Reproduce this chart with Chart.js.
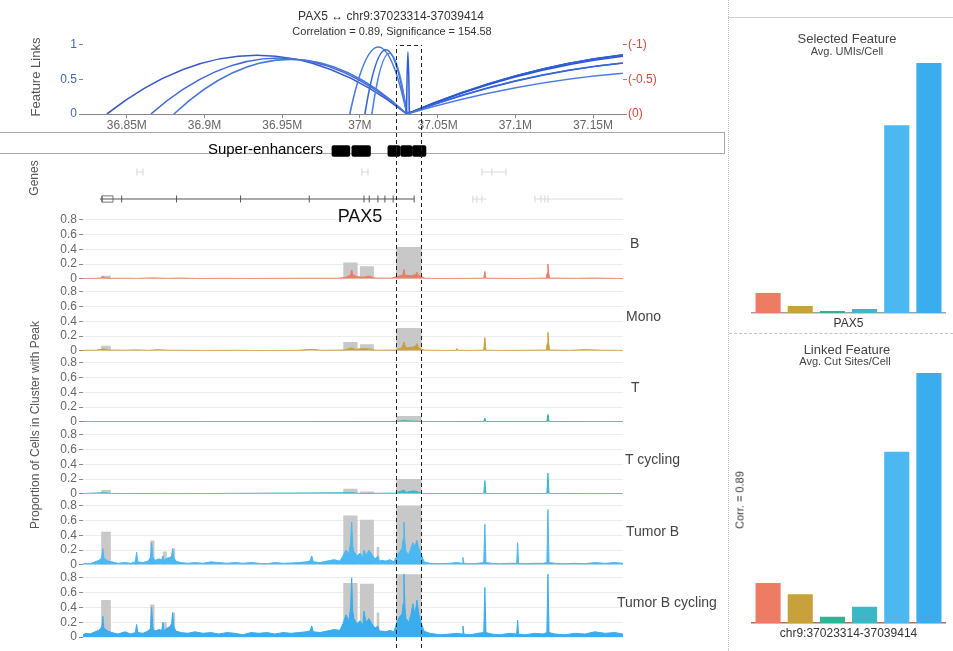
<!DOCTYPE html>
<html>
<head>
<meta charset="utf-8">
<title>PAX5 feature links</title>
<script src="https://cdn.jsdelivr.net/npm/chart.js@4.4.1/dist/chart.umd.min.js"></script>
<style>
  body { margin: 0; background: #fff; }
  #page { position: relative; width: 953px; height: 651px; overflow: hidden; font-family: "Liberation Sans", Arial, Helvetica, sans-serif; }
  canvas { position: absolute; }
  .t { position: absolute; white-space: nowrap; line-height: 1; z-index: 2; }
  .c { transform: translate(-50%, -50%); }
  .l { transform: translate(0, -50%); }
  .r { transform: translate(-100%, -50%); }
  .rot { transform: translate(-50%, -50%) rotate(-90deg); }
</style>
</head>
<body>
<div id="page">
  <div style="position:absolute;left:0;top:132px;width:724px;height:20px;border-top:1px solid #a8a8a8;border-bottom:1px solid #a8a8a8;border-right:1px solid #a8a8a8;"></div>
  <div style="position:absolute;left:728px;top:0;width:0;height:651px;border-left:1px dotted #bbb;"></div>
  <div style="position:absolute;left:728px;top:17px;width:225px;height:0;border-top:1px solid #d0d0d0;"></div>
  <div style="position:absolute;left:729px;top:333px;width:224px;height:0;border-top:1px dashed #c4c4c4;"></div>

  <div class="t c" style="left:391px;top:16px;font-size:12px;color:#333;">PAX5 ↔ chr9:37023314-37039414</div>
  <div class="t c" style="left:392px;top:31px;font-size:11px;color:#333;">Correlation = 0.89, Significance = 154.58</div>
  <div class="t rot" style="left:35px;top:77px;font-size:13px;color:#555;">Feature Links</div>
  <div class="t r" style="left:323px;top:148px;font-size:15px;color:#000;">Super-enhancers</div>
  <div class="t rot" style="left:34px;top:178px;font-size:12px;color:#555;">Genes</div>
  <div class="t c" style="left:360px;top:216px;font-size:18px;color:#111;">PAX5</div>
  <div class="t rot" style="left:35px;top:425px;font-size:12px;color:#555;">Proportion of Cells in Cluster with Peak</div>

  <div class="t l" style="left:630px;top:243px;font-size:14px;color:#444;">B</div>
  <div class="t l" style="left:626px;top:316px;font-size:14px;color:#444;">Mono</div>
  <div class="t l" style="left:631px;top:387px;font-size:14px;color:#444;">T</div>
  <div class="t l" style="left:625px;top:459px;font-size:14px;color:#444;">T cycling</div>
  <div class="t l" style="left:626px;top:531px;font-size:14px;color:#444;">Tumor B</div>
  <div class="t l" style="left:617px;top:602px;font-size:14px;color:#444;">Tumor B cycling</div>

  <div class="t c" style="left:847px;top:38px;font-size:13px;color:#444;">Selected Feature</div>
  <div class="t c" style="left:847px;top:51px;font-size:11px;color:#444;">Avg. UMIs/Cell</div>
  <div class="t c" style="left:847px;top:349px;font-size:13px;color:#444;">Linked Feature</div>
  <div class="t c" style="left:845px;top:361px;font-size:11px;color:#444;">Avg. Cut Sites/Cell</div>
  <div class="t rot" style="left:740px;top:500px;font-size:11px;color:#333;">Corr. = 0.89</div>
</div>
<script>
Chart.defaults.font.family = '"Liberation Sans", Arial, Helvetica, sans-serif';
Chart.defaults.animation = false;
Chart.defaults.layout.autoPadding = false;
Chart.defaults.plugins.legend.display = false;
Chart.defaults.plugins.tooltip.enabled = false;

// genomic window of the left panels (Mb) and the highlighted peak
const xMin = 36.8218, xMax = 37.1693;
const regionStart = 37.0232, regionEnd = 37.0394;

// feature links (arcs)
const linkStart  = [36.8372, 36.8655, 36.8803, 36.9935, 37.0032, 37.0077, 37.0300, 37.0302, 37.0302, 37.0302, 37.0302, 37.0302, 37.0302];
const linkEnd    = [37.0302, 37.0302, 37.0302, 37.0302, 37.0302, 37.0302, 37.0318, 37.4151, 37.4100, 37.4200, 37.4151, 37.4050, 37.4151];
const linkHeight = [0.85, 0.81, 0.79, 0.97, 0.93, 0.88, 0.90, 0.93, 0.92, 0.91, 0.80, 0.79, 0.64];
const linkColors = ['#3a58c4', '#3f68d6', '#4a76dc', '#4a78e0', '#3566d8', '#4f82e4', '#2f5fd6',
                    '#2a52cc', '#3160d8', '#2a55d2', '#2d5ad4', '#3866da', '#4a7ce0'];
const linkTicks = [36.85, 36.9, 36.95, 37, 37.05, 37.1, 37.15];
const linkYTicks = [0, 0.5, 1];
const linkYLabels = ['(0)', '(-0.5)', '(-1)'];

// super-enhancers
const seStart = [36.9820, 36.9948, 37.0180, 37.0262, 37.0338];
const seEnd   = [36.9935, 37.0068, 37.0258, 37.0335, 37.0425];

// genes
const pax5Start = 36.8327, pax5End = 37.0349;
const pax5Utr = [36.8340, 36.8411];
const pax5Exons = [36.8467, 36.8820, 36.9232, 36.9674, 37.0026, 37.0060, 37.0116, 37.0161, 37.0214, 37.0349];
const otherGeneStart = [36.8565, 37.0013, 37.0785, 37.0727, 37.1126];
const otherGeneEnd   = [36.8604, 37.0052, 37.0940, 37.0811, 37.1750];
const otherGeneRow   = [2, 2, 2, 1, 1];
const otherExonPos = [36.8565, 36.8604, 37.0013, 37.0052, 37.0785, 37.0849, 37.0940, 37.0727, 37.0753, 37.0785, 37.1126, 37.1165, 37.1190, 37.1210];
const otherExonRow = [2, 2, 2, 2, 2, 2, 2, 1, 1, 1, 1, 1, 1, 1];

// clusters
const clusters = ['B', 'Mono', 'T', 'T cycling', 'Tumor B', 'Tumor B cycling'];
const clusterColors = ['#EE7C64', '#C9A13A', '#2DB497', '#3BB8C6', '#4BB8F2', '#3AADEF'];

// peaks (grey) and the proportion of cells with each peak
const peakStart = [36.8335, 36.8650, 36.8731, 36.8790, 36.9893, 37.0000, 37.0108, 37.0232];
const peakEnd   = [36.8397, 36.8678, 36.8757, 36.8811, 36.9985, 37.0090, 37.0125, 37.0397];
const peakB        = [0.04, 0, 0, 0, 0.22, 0.17, 0, 0.43];
const peakMono     = [0.07, 0, 0, 0, 0.12, 0.09, 0, 0.31];
const peakT        = [0, 0, 0, 0, 0, 0, 0, 0.08];
const peakTcyc     = [0.05, 0, 0, 0, 0.07, 0.03, 0, 0.20];
const peakTumorB   = [0.45, 0.33, 0.18, 0.22, 0.67, 0.61, 0.24, 0.80];
const peakTumorBcyc = [0.50, 0.44, 0.20, 0.33, 0.73, 0.72, 0.33, 0.85];
const trackTicks = [0, 0.2, 0.4, 0.6, 0.8];

// coverage [position Mb, value]
const covB = [[36.8218,0.004],[36.8300,0.006],[36.8333,0.012],[36.8346,0.03],[36.8359,0.012],[36.8400,0.006],
  [36.8480,0.008],[36.8560,0.005],[36.8660,0.012],[36.8760,0.006],[36.8850,0.01],[36.8950,0.004],
  [36.9100,0.006],[36.9300,0.004],[36.9500,0.006],[36.9700,0.008],[36.9850,0.006],
  [36.9910,0.02],[36.9940,0.05],[36.9947,0.12],[36.9955,0.05],[36.9980,0.03],[37.0019,0.02],[37.0058,0.035],[37.0100,0.01],
  [37.0200,0.008],[37.0240,0.03],[37.0276,0.05],[37.0283,0.13],[37.0290,0.05],[37.0330,0.04],[37.0360,0.06],[37.0367,0.09],[37.0375,0.05],[37.0395,0.03],[37.0420,0.006],
  [37.0550,0.004],[37.0700,0.006],[37.0797,0.008],[37.0804,0.1],[37.0811,0.008],[37.0900,0.006],[37.1050,0.004],
  [37.1200,0.01],[37.1205,0.08],[37.1210,0.2],[37.1215,0.08],[37.1220,0.01],[37.1400,0.006],[37.1500,0.01],[37.1693,0.004]];
const covMono = [[36.8218,0.006],[36.8300,0.008],[36.8346,0.025],[36.8380,0.01],[36.8480,0.008],[36.8560,0.012],[36.8640,0.006],[36.8700,0.015],[36.8760,0.008],[36.8850,0.006],[36.9000,0.005],[36.9200,0.006],[36.9400,0.004],[36.9600,0.006],[36.9696,0.02],[36.9750,0.006],
  [36.9900,0.01],[36.9947,0.04],[36.9970,0.02],[37.0019,0.03],[37.0060,0.025],[37.0100,0.008],
  [37.0230,0.01],[37.0270,0.04],[37.0283,0.12],[37.0296,0.04],[37.0340,0.05],[37.0360,0.07],[37.0367,0.1],[37.0375,0.05],[37.0395,0.02],[37.0420,0.008],
  [37.0550,0.005],[37.0618,0.006],[37.0624,0.03],[37.0630,0.006],[37.0700,0.005],[37.0797,0.008],[37.0804,0.18],[37.0811,0.008],[37.0900,0.005],[37.1050,0.006],
  [37.1200,0.01],[37.1205,0.1],[37.1210,0.25],[37.1215,0.1],[37.1220,0.01],[37.1350,0.006],[37.1450,0.015],[37.1500,0.012],[37.1550,0.008],[37.1693,0.005]];
const covT = [[36.8218,0.003],[36.9000,0.003],[37.0230,0.004],[37.0283,0.015],[37.0340,0.008],[37.0400,0.003],[37.0797,0.004],[37.0804,0.05],[37.0811,0.004],[37.1203,0.004],[37.1210,0.1],[37.1217,0.004],[37.1693,0.003]];
const covTcyc = [[36.8218,0.004],[36.8346,0.015],[36.8400,0.005],[36.9000,0.004],[36.9947,0.015],[37.0000,0.005],[37.0230,0.01],[37.0283,0.05],[37.0300,0.02],[37.0341,0.04],[37.0367,0.03],[37.0400,0.005],[37.0797,0.005],[37.0804,0.18],[37.0811,0.005],[37.1203,0.005],[37.1210,0.28],[37.1217,0.005],[37.1693,0.004]];
const covTumorB = [[36.8218,0.01],[36.8237,0.02],[36.8263,0.015],[36.8295,0.04],[36.8320,0.06],[36.8333,0.08],[36.8340,0.12],[36.8346,0.22],[36.8352,0.1],[36.8365,0.07],[36.8378,0.05],[36.8404,0.04],[36.8443,0.02],[36.8488,0.03],[36.8526,0.02],
  [36.8555,0.04],[36.8563,0.17],[36.8571,0.04],[36.8604,0.03],[36.8636,0.05],[36.8652,0.1],[36.8660,0.3],[36.8668,0.1],[36.8681,0.06],[36.8707,0.08],[36.8725,0.07],[36.8732,0.12],[36.8740,0.06],[36.8758,0.09],[36.8777,0.1],[36.8788,0.12],[36.8795,0.22],[36.8802,0.1],[36.8816,0.05],[36.8848,0.03],
  [36.8893,0.02],[36.8938,0.03],[36.8990,0.02],[36.9041,0.04],[36.9093,0.03],[36.9144,0.02],[36.9196,0.03],[36.9247,0.02],[36.9299,0.03],[36.9350,0.02],[36.9402,0.015],[36.9453,0.03],[36.9505,0.02],[36.9556,0.025],[36.9607,0.03],[36.9653,0.04],[36.9678,0.05],[36.9690,0.12],[36.9700,0.04],[36.9743,0.03],[36.9788,0.05],[36.9833,0.07],[36.9871,0.05],
  [36.9891,0.12],[36.9910,0.2],[36.9929,0.15],[36.9940,0.3],[36.9947,0.58],[36.9954,0.25],[36.9961,0.18],[36.9981,0.12],[37.0000,0.16],[37.0019,0.1],[37.0026,0.2],[37.0039,0.12],[37.0058,0.2],[37.0077,0.14],[37.0097,0.08],[37.0116,0.12],[37.0125,0.05],[37.0142,0.06],[37.0167,0.05],[37.0193,0.07],[37.0219,0.04],
  [37.0238,0.12],[37.0257,0.18],[37.0270,0.22],[37.0278,0.35],[37.0283,0.58],[37.0290,0.3],[37.0296,0.18],[37.0315,0.14],[37.0328,0.22],[37.0341,0.3],[37.0354,0.25],[37.0367,0.33],[37.0380,0.22],[37.0393,0.15],[37.0412,0.04],
  [37.0450,0.02],[37.0515,0.015],[37.0579,0.02],[37.0624,0.03],[37.0657,0.02],[37.0663,0.1],[37.0669,0.02],[37.0708,0.015],[37.0759,0.02],[37.0797,0.03],[37.0804,0.55],[37.0811,0.03],[37.0849,0.02],[37.0901,0.015],[37.0965,0.02],
  [37.1009,0.02],[37.1015,0.3],[37.1021,0.02],[37.1062,0.015],[37.1126,0.02],[37.1178,0.02],[37.1203,0.03],[37.1210,0.75],[37.1217,0.03],[37.1255,0.02],[37.1319,0.015],[37.1384,0.02],[37.1448,0.015],[37.1512,0.03],[37.1577,0.02],[37.1641,0.03],[37.1693,0.02]];
const covTumorBcyc = [[36.8218,0.03],[36.8237,0.05],[36.8263,0.04],[36.8295,0.07],[36.8320,0.09],[36.8333,0.12],[36.8340,0.15],[36.8346,0.28],[36.8352,0.12],[36.8365,0.1],[36.8378,0.08],[36.8404,0.06],[36.8443,0.04],[36.8488,0.07],[36.8526,0.04],
  [36.8555,0.06],[36.8563,0.17],[36.8571,0.06],[36.8604,0.05],[36.8636,0.08],[36.8652,0.12],[36.8660,0.4],[36.8668,0.12],[36.8681,0.08],[36.8707,0.1],[36.8725,0.09],[36.8732,0.2],[36.8740,0.08],[36.8758,0.12],[36.8777,0.14],[36.8788,0.18],[36.8795,0.33],[36.8802,0.14],[36.8816,0.08],[36.8848,0.06],
  [36.8893,0.05],[36.8938,0.07],[36.8990,0.05],[36.9041,0.06],[36.9093,0.04],[36.9144,0.06],[36.9196,0.05],[36.9247,0.03],[36.9299,0.06],[36.9350,0.05],[36.9402,0.06],[36.9453,0.04],[36.9505,0.06],[36.9556,0.05],[36.9607,0.06],[36.9653,0.07],[36.9678,0.08],[36.9690,0.15],[36.9700,0.07],[36.9743,0.06],[36.9788,0.08],[36.9833,0.1],[36.9871,0.09],
  [36.9891,0.18],[36.9910,0.3],[36.9929,0.22],[36.9940,0.4],[36.9947,0.8],[36.9954,0.35],[36.9961,0.25],[36.9981,0.18],[37.0000,0.22],[37.0019,0.16],[37.0026,0.35],[37.0039,0.2],[37.0058,0.25],[37.0077,0.18],[37.0097,0.12],[37.0116,0.15],[37.0125,0.08],[37.0142,0.08],[37.0167,0.07],[37.0193,0.09],[37.0219,0.07],
  [37.0238,0.2],[37.0257,0.28],[37.0270,0.3],[37.0278,0.45],[37.0283,0.85],[37.0290,0.4],[37.0296,0.25],[37.0315,0.2],[37.0328,0.3],[37.0341,0.45],[37.0354,0.3],[37.0367,0.5],[37.0380,0.3],[37.0393,0.2],[37.0412,0.08],
  [37.0450,0.05],[37.0515,0.03],[37.0579,0.04],[37.0624,0.05],[37.0657,0.04],[37.0663,0.15],[37.0669,0.04],[37.0708,0.03],[37.0759,0.05],[37.0797,0.06],[37.0804,0.67],[37.0811,0.06],[37.0849,0.04],[37.0901,0.03],[37.0965,0.05],
  [37.1009,0.04],[37.1015,0.23],[37.1021,0.04],[37.1062,0.03],[37.1126,0.05],[37.1178,0.04],[37.1203,0.06],[37.1210,0.85],[37.1217,0.06],[37.1255,0.04],[37.1319,0.03],[37.1384,0.05],[37.1448,0.04],[37.1512,0.07],[37.1577,0.05],[37.1641,0.06],[37.1693,0.04]];

// right panels
const selectedUMIs = [0.40, 0.14, 0.04, 0.08, 3.74, 4.98];
const linkedCuts   = [0.32, 0.23, 0.05, 0.13, 1.37, 2.00];

const page = document.getElementById('page');
function addCanvas(id, left, top, w, h) {
  const c = document.createElement('canvas');
  c.id = id; c.width = w; c.height = h;
  c.style.left = left + 'px'; c.style.top = top + 'px';
  page.appendChild(c);
  return c;
}
// fixed axis sizes so every panel shares the same plot area
const fitW = w => s => { s.width = w; };
const fitH = h => s => { s.height = h; };
const fixTicks = vals => s => { s.ticks = vals.map(v => ({ value: v })); };

// dashed box around the linked peak, drawn band by band across the canvases
const regionLines = {
  id: 'regionLines',
  afterDraw(chart, args, opts) {
    const { ctx, scales: { x } } = chart;
    const y1 = opts.from - opts.top, y2 = opts.to - opts.top;
    ctx.save();
    ctx.strokeStyle = '#222';
    ctx.lineWidth = 1;
    ctx.setLineDash([4, 3]);
    ctx.lineDashOffset = opts.from;
    ctx.beginPath();
    [regionStart, regionEnd].forEach(v => {
      const px = Math.round(x.getPixelForValue(v)) + 0.5;
      ctx.moveTo(px, y1); ctx.lineTo(px, y2);
    });
    if (opts.cap) {
      ctx.moveTo(x.getPixelForValue(regionStart), y1 + 0.5);
      ctx.lineTo(x.getPixelForValue(regionEnd), y1 + 0.5);
    }
    ctx.stroke();
    ctx.restore();
  }
};

// link arcs, height = link score
const linkArcs = {
  id: 'linkArcs',
  beforeDatasetsDraw(chart) {
    const { ctx, chartArea: a, scales: { x, y } } = chart;
    ctx.save();
    ctx.beginPath();
    ctx.rect(a.left, a.top, a.right - a.left, a.bottom - a.top);
    ctx.clip();
    ctx.lineWidth = 1.6;
    linkStart.forEach((s, i) => {
      const x0 = x.getPixelForValue(s), x1 = x.getPixelForValue(linkEnd[i]);
      const y0 = y.getPixelForValue(0), yc = y.getPixelForValue(2 * linkHeight[i]);
      ctx.beginPath();
      ctx.moveTo(x0, y0);
      ctx.quadraticCurveTo((x0 + x1) / 2, yc, x1, y0);
      ctx.strokeStyle = linkColors[i];
      ctx.stroke();
    });
    ctx.restore();
  }
};

// feature links panel
new Chart(addCanvas('links', 0, 0, 725, 135), {
  type: 'line',
  data: { datasets: [] },
  options: {
    responsive: false,
    layout: { padding: { left: 0, right: 0, top: 38, bottom: 0 } },
    scales: {
      x: {
        type: 'linear', min: xMin, max: xMax, afterFit: fitH(21), afterBuildTicks: fixTicks(linkTicks),
        grid: { drawOnChartArea: false, tickLength: 4, color: '#888' },
        border: { color: '#888' },
        ticks: { callback: v => v + 'M', color: '#666', font: { size: 12 }, padding: 0, maxRotation: 0, autoSkip: false }
      },
      y: {
        type: 'linear', min: 0, max: 1.1, afterFit: fitW(83), afterBuildTicks: fixTicks(linkYTicks),
        grid: { drawOnChartArea: false, tickLength: 4, color: '#888' },
        border: { display: false },
        ticks: { color: '#4466b0', font: { size: 12 }, padding: 2, autoSkip: false, callback: v => String(v) }
      },
      y2: {
        type: 'linear', position: 'right', min: 0, max: 1.1, afterFit: fitW(102), afterBuildTicks: fixTicks(linkYTicks),
        grid: { drawOnChartArea: false, tickLength: 4, color: '#888' },
        border: { display: false },
        ticks: { color: '#d04a3c', font: { size: 12 }, padding: 1, autoSkip: false, callback: (v, i) => linkYLabels[i] }
      }
    },
    plugins: { regionLines: { top: 0, from: 45, to: 132, cap: true } }
  },
  plugins: [linkArcs, regionLines]
});

// super-enhancer blocks
new Chart(addCanvas('se', 0, 130, 725, 30), {
  type: 'bar',
  data: {
    labels: ['SE'],
    datasets: seStart.map((s, i) => ({
      data: [[s, seEnd[i]]], backgroundColor: '#000', barThickness: 11,
      grouped: false, borderRadius: 2, borderSkipped: false
    }))
  },
  options: {
    indexAxis: 'y',
    responsive: false,
    layout: { padding: { left: 83, right: 102, top: 15, bottom: 3 } },
    scales: {
      x: { type: 'linear', min: xMin, max: xMax, display: false },
      y: { display: false }
    },
    plugins: { regionLines: { top: 130, from: 132, to: 154 } }
  },
  plugins: [regionLines]
});

// gene track
const rowY = r => (r === 1 ? 1 : 4);
const otherBodies = [];
otherGeneStart.forEach((s, i) => {
  otherBodies.push({ x: s, y: rowY(otherGeneRow[i]) }, { x: otherGeneEnd[i], y: rowY(otherGeneRow[i]) }, { x: otherGeneEnd[i], y: null });
});
new Chart(addCanvas('genes', 0, 154, 725, 56), {
  type: 'scatter',
  data: {
    datasets: [
      { data: [{ x: pax5Start, y: 1 }, { x: pax5End, y: 1 }], showLine: true, borderColor: '#555', borderWidth: 1, pointRadius: 0 },
      { data: pax5Exons.map(p => ({ x: p, y: 1 })), pointStyle: 'line', rotation: 90, pointRadius: 3.5, borderColor: '#555', borderWidth: 1 },
      { data: [{ x: pax5Utr[0], y: 0.65 }, { x: pax5Utr[1], y: 0.65 }, { x: pax5Utr[1], y: 1.35 }, { x: pax5Utr[0], y: 1.35 }, { x: pax5Utr[0], y: 0.65 }],
        showLine: true, borderColor: '#777', borderWidth: 1, pointRadius: 0 },
      { data: otherBodies, showLine: true, spanGaps: false, borderColor: '#dcdcdc', borderWidth: 1, pointRadius: 0 },
      { data: otherExonPos.map((p, i) => ({ x: p, y: rowY(otherExonRow[i]) })), pointStyle: 'line', rotation: 90, pointRadius: 3.5, borderColor: '#d4d4d4', borderWidth: 1 }
    ]
  },
  options: {
    responsive: false,
    layout: { padding: { left: 83, right: 102, top: 9, bottom: 2 } },
    scales: {
      x: { type: 'linear', min: xMin, max: xMax, display: false },
      y: { min: 0, max: 5, display: false }
    },
    plugins: { regionLines: { top: 154, from: 154, to: 208 } }
  },
  plugins: [regionLines]
});

// coverage tracks, one per cluster
const trackZero = [279, 351, 422, 494, 565, 637];
const peakHeights = [peakB, peakMono, peakT, peakTcyc, peakTumorB, peakTumorBcyc];
const coverage = [covB, covMono, covT, covTcyc, covTumorB, covTumorBcyc];

clusters.forEach((name, i) => {
  const top = trackZero[i] - 75;
  const h = i === clusters.length - 1 ? 651 - top : 84;
  const steps = [{ x: xMin, y: 0 }];
  peakStart.forEach((s, k) => { steps.push({ x: s, y: peakHeights[i][k] }, { x: peakEnd[k], y: 0 }); });
  steps.push({ x: xMax, y: 0 });
  new Chart(addCanvas('track' + i, 0, top, 725, h), {
    type: 'line',
    data: {
      datasets: [
        { label: name, data: coverage[i].map(([x, y]) => ({ x, y })), borderColor: clusterColors[i], backgroundColor: clusterColors[i],
          fill: 'origin', borderWidth: 1, pointRadius: 0 },
        { label: name + ' peaks', data: steps, stepped: true, fill: 'origin', backgroundColor: '#c8c8c8',
          borderColor: 'rgba(0,0,0,0)', borderWidth: 1, pointRadius: 0 }
      ]
    },
    options: {
      responsive: false,
      layout: { padding: { left: 0, right: 102, top: 5, bottom: h - 75 } },
      scales: {
        x: { type: 'linear', min: xMin, max: xMax, display: false },
        y: {
          min: 0, max: 0.89, afterFit: fitW(83), afterBuildTicks: fixTicks(trackTicks),
          grid: { color: '#ececec', tickColor: '#888', tickLength: 4 },
          border: { display: false },
          ticks: { color: '#666', font: { size: 12 }, padding: 2, autoSkip: false, callback: v => String(v) }
        }
      },
      plugins: { regionLines: { top, from: i === 0 ? 208 : trackZero[i - 1], to: i === clusters.length - 1 ? 651 : trackZero[i] } }
    },
    plugins: [regionLines]
  });
});

// right side bar charts
function featureBars(id, top, h, values, label, padTop, padBottom, axisColor) {
  new Chart(addCanvas(id, 728, top, 225, h), {
    type: 'bar',
    data: {
      labels: [label],
      datasets: clusters.map((c, i) => ({
        label: c, data: [values[i]], backgroundColor: clusterColors[i],
        barPercentage: 0.78, categoryPercentage: 1
      }))
    },
    options: {
      responsive: false,
      layout: { padding: { left: 24, right: 8, top: padTop, bottom: 0 } },
      scales: {
        x: {
          afterFit: fitH(padBottom), grid: { display: false, drawTicks: false },
          border: { color: axisColor, width: 1.5 },
          ticks: { color: '#333', font: { size: 12 }, padding: 3 }
        },
        y: { display: false, min: 0, max: Math.max(...values) }
      }
    }
  });
}
featureBars('selected', 17, 316, selectedUMIs, 'PAX5', 46, 20, '#a0a0a0');
featureBars('linked', 333, 318, linkedCuts, 'chr9:37023314-37039414', 40, 28, '#b5705a');
</script>
</body>
</html>
